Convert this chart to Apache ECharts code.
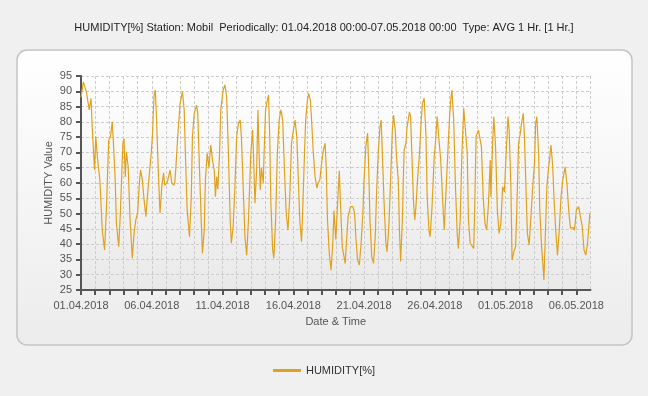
<!DOCTYPE html>
<html>
<head>
<meta charset="utf-8">
<script src="https://cdn.jsdelivr.net/npm/echarts@6/dist/echarts.min.js"></script>
<style>
html,body{margin:0;padding:0;background:#f0f0f0;}
#chart{width:648px;height:396px;}
</style>
</head>
<body>
<div id="chart"></div>
<script>
// Chart data (hour offsets from 01.04.2018 00:00)
const titleText = 'HUMIDITY[%] Station: Mobil  Periodically: 01.04.2018 00:00-07.05.2018 00:00  Type: AVG 1 Hr. [1 Hr.]';
const seriesName = 'HUMIDITY[%]';
const startDate = [2018, 3, 1];
const totalHours = 864;
const hours = [0,4,9,14,17,19,23,25,28,32,36,40,43,47,50,53,55,58,60,64,67,71,73,75,77,80,83,87,90,93,96,99,101,104,107,110,114,119,121,124,126,128,131,134,137,140,142,146,151,154,157,159,161,164,168,172,175,177,180,184,187,189,192,194,196,198,201,204,206,209,211,214,217,220,223,226,228,230,232,235,237,241,244,247,250,253,255,258,261,264,267,270,272,275,278,281,284,288,291,292,295,298,300,302,304,306,309,311,313,316,318,320,322,325,327,330,333,336,339,342,345,348,351,354,357,360,363,366,369,371,374,376,379,381,384,386,389,391,394,397,400,402,405,408,411,414,416,418,421,424,427,429,432,438,440,443,448,450,453,457,461,464,466,469,472,475,478,480,483,486,488,490,493,496,499,501,504,507,509,511,514,517,519,522,525,528,530,533,535,538,540,542,545,547,548,551,553,557,559,561,564,566,568,571,574,577,579,582,585,587,590,592,595,599,601,604,607,610,613,616,618,622,625,627,629,632,635,638,640,643,646,649,652,655,657,660,663,666,668,670,674,676,679,682,685,688,691,694,695,698,700,703,706,709,712,715,718,721,724,726,729,731,734,737,739,742,745,747,750,752,755,757,760,763,766,769,771,773,776,778,781,784,785,787,790,792,795,797,800,802,805,808,811,814,817,821,824,827,830,834,837,840,844,847,850,853,856,859,862,863];
const humidity = [88,93.1,89.9,83.9,87.7,78.4,64.2,75.2,68,61,44.6,38.1,51.2,74,75.1,80,73,61,46.9,39.2,51.2,73,74.5,62,70.2,65.3,49,35.4,43.6,47.9,50.2,60,64.2,61,54.4,49,58.8,69.7,75,88.8,90.4,81.7,64.2,50.1,58.8,63.3,59.3,60,64.2,60,59.3,60,65.3,75.2,86,89.9,83.9,69.7,51.2,42.4,55.5,75.2,82.8,83,85.5,82.8,64.2,46.8,37,44.6,61,69.7,65,72.4,67.5,64,55.5,62,58,69.7,83.9,90.4,92.1,88.3,69.7,47.9,40.3,45.7,58.8,75.2,79.5,80.6,75,58.8,42.4,36.4,47.9,69.7,77.3,72,53.4,65,83.9,69.7,57.7,65,60,73,83.9,87.1,88.8,75.2,53.4,38.1,35.4,47.9,69.7,80.6,83.9,80.6,64.2,50.1,44.6,55.5,73,77,80.6,75,58.8,47.9,40.8,51.2,69.7,80.6,87.1,89.3,87,80.6,69.7,62,58.3,60,61,66.4,70.8,73,64.2,47.9,37,31.5,40.3,51,41.5,64,53.4,39.2,33.7,40.3,49,52.3,52.3,50.1,42.4,34.8,33.2,40.3,50.1,61,71.9,76.3,64.2,47.9,35.9,33.7,42.4,55.5,69.7,78.4,80.6,69.7,53.4,40.3,37.5,45.7,61,77.3,82.2,77,68.6,61,44.6,34.3,47.9,64.2,70.8,73,78.4,83.3,81.6,69.7,53.4,47.9,52.3,62,69.7,80.6,86,87.7,75.2,55.5,44.6,42.4,51.2,68.6,73,81.7,74.1,67.5,55.5,44.6,53.4,69.7,81.7,87.1,90.4,80.6,58.8,43.5,38.6,47.9,69.7,84.4,84,69.7,47.9,40.3,40,38.6,55.5,75.2,77.3,77.5,71.9,55.5,46.8,44.6,53.4,67.5,55.5,73,81.7,71.9,51.2,43.5,46.8,58.8,57,69.7,81.7,77.3,58.8,34.8,37.5,39.2,51.2,73,76.3,79.5,82.8,75.2,55.5,43.5,39.7,49,58.8,66.4,79.5,81.7,69.7,51.2,39.2,31.5,28.3,40.3,58.8,63.2,68.6,72.4,65.3,55.5,44.6,36.4,44.6,55.5,61,65.3,59.9,51.2,45.2,45.5,44.6,51.2,52.3,52.5,45.7,38.1,36.4,40.3,47.9,50.1];
const yMin = 25, yMax = 95, yStep = 5;
const labelEveryDays = 5;

function pad(n){return (n<10?'0':'')+n;}
function hourLabel(h){
  const d = new Date(Date.UTC(startDate[0], startDate[1], startDate[2]) + h*3600000);
  return pad(d.getUTCDate())+'.'+pad(d.getUTCMonth()+1)+'.'+d.getUTCFullYear();
}
const data = hours.map((h,i)=>[h, humidity[i]]);

const chart = echarts.init(document.getElementById('chart'), null, {renderer:'canvas'});
const txt = '#555';
chart.setOption({
  backgroundColor:'#f0f0f0',
  animation:false,
  textStyle:{fontFamily:'Liberation Sans, Arial, sans-serif'},
  title:{text:titleText,left:'center',top:17,
    textStyle:{fontSize:11,fontWeight:'normal',color:'#222',fontFamily:'Liberation Sans, Arial, sans-serif'}},
  graphic:[{type:'rect',z:-10,silent:true,
    shape:{x:17,y:50,width:615,height:295,r:10},
    style:{fill:new echarts.graphic.LinearGradient(0,0,0,1,[{offset:0,color:'#ffffff'},{offset:1,color:'#ececec'}]),
      stroke:'#c4c4c4',lineWidth:1.5}}],
  legend:{data:[seriesName],left:'center',top:360,icon:'rect',itemWidth:28,itemHeight:3,
    textStyle:{fontSize:11,color:'#333'}},
  grid:{left:81,top:76,right:57.5,bottom:106,show:true,borderWidth:0,
    backgroundColor:new echarts.graphic.LinearGradient(0,0,0,1,[{offset:0,color:'#ffffff'},{offset:1,color:'#e9e9e9'}])},
  xAxis:{type:'value',min:0,max:totalHours,interval:24,
    name:'Date & Time',nameLocation:'middle',nameGap:26,nameMoveOverlap:false,nameTextStyle:{fontSize:11,color:txt},
    axisLine:{show:true,onZero:false,lineStyle:{color:'#555',width:2}},
    axisTick:{show:true,length:5,lineStyle:{color:'#555',width:2}},
    axisLabel:{fontSize:11,color:txt,margin:10,showMaxLabel:false,
      formatter:function(v){return (v % (24*labelEveryDays)===0) ? hourLabel(v) : '';}},
    splitLine:{show:true,lineStyle:{color:'#cccccc',type:[3,2],width:1}}},
  yAxis:{type:'value',min:yMin,max:yMax,interval:yStep,
    name:'HUMIDITY Value',nameLocation:'middle',nameGap:27,nameMoveOverlap:false,nameTextStyle:{fontSize:11,color:txt},
    axisLine:{show:true,lineStyle:{color:'#555',width:2}},
    axisTick:{show:true,length:5,lineStyle:{color:'#555',width:2}},
    axisLabel:{fontSize:11,color:txt,margin:9},
    splitLine:{show:true,lineStyle:{color:'#cccccc',type:[3,2],width:1}}},
  series:[{name:seriesName,type:'line',data:data,showSymbol:false,symbol:'none',
    lineStyle:{color:'#E0A21E',width:1.2},itemStyle:{color:'#E0A21E'}}]
});
</script>
</body>
</html>
